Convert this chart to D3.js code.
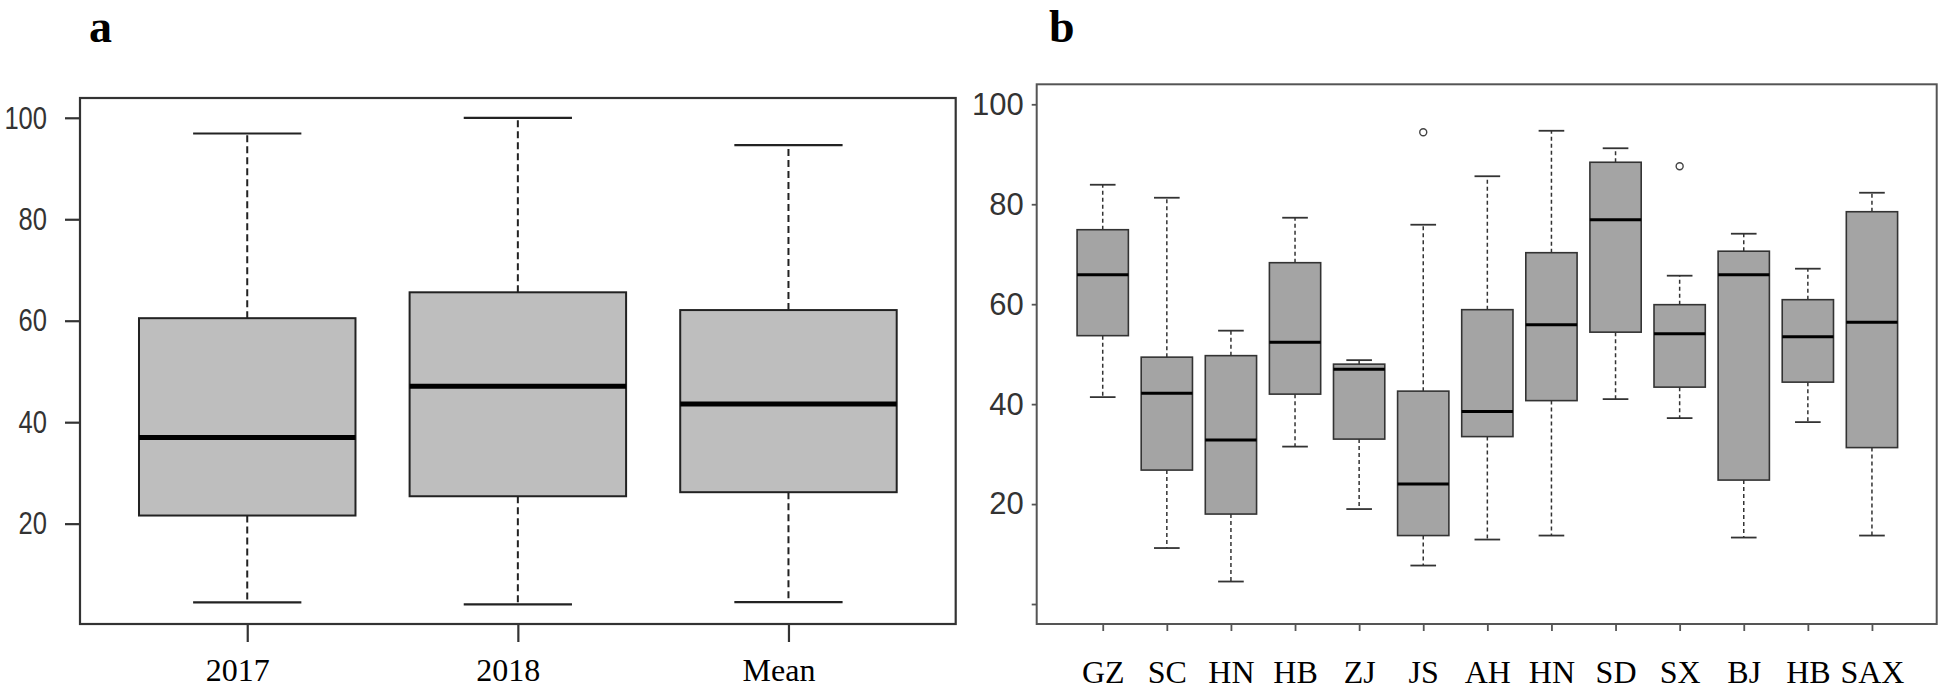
<!DOCTYPE html>
<html>
<head>
<meta charset="utf-8">
<script src="https://cdn.jsdelivr.net/npm/d3@7"></script>
<style>
  body { margin: 0; background: #fff; }
  svg { display: block; }
</style>
</head>
<body>
<div id="chart"></div>
<script>
// panel a: yearly scores
const catsA = ["2017", "2018", "Mean"];
const lowA  = [4.5, 4.1, 4.55];
const q1A   = [21.6, 25.4, 26.2];
const medA  = [37.0, 47.1, 43.6];
const q3A   = [60.5, 65.6, 62.1];
const highA = [96.9, 100.0, 94.6];
const ticksA = [20, 40, 60, 80, 100];

// panel b: by province
const catsB = ["GZ", "SC", "HN", "HB", "ZJ", "JS", "AH", "HN", "SD", "SX", "BJ", "HB", "SAX"];
const lowB  = [41.4, 11.2, 4.5, 31.5, 19.0, 7.7, 12.9, 13.7, 41.0, 37.2, 13.3, 36.4, 13.7];
const q1B   = [53.7, 26.8, 18.0, 42.0, 33.0, 13.7, 33.5, 40.7, 54.4, 43.4, 24.8, 44.4, 31.3];
const medB  = [65.9, 42.2, 32.8, 52.4, 47.0, 24.0, 38.5, 55.9, 76.9, 54.1, 65.9, 53.5, 56.4];
const q3B   = [74.9, 49.4, 49.7, 68.3, 48.0, 42.6, 58.9, 70.3, 88.4, 59.9, 70.6, 60.9, 78.5];
const highB = [83.9, 81.3, 54.7, 77.3, 48.8, 75.9, 85.6, 94.7, 91.2, 65.7, 74.1, 67.1, 82.3];
const outIdxB = [5, 9];
const outValB = [94.4, 87.6];
const ticksB = [0, 20, 40, 60, 80, 100];

const width = 1946, height = 690;

const svg = d3.select("#chart").append("svg")
  .attr("width", width)
  .attr("height", height);

// draws one set of boxplots; positions are 1..n on x
function drawBoxes(g, x, y, n, low, q1, med, q3, high, st) {
  const bw = (x(1.4) - x(0.6));
  const sw = bw / 2;
  const idx = d3.range(n);

  // whiskers
  g.selectAll(".wh-up").data(idx).enter().append("line")
    .attr("x1", i => x(i + 1)).attr("x2", i => x(i + 1))
    .attr("y1", i => y(q3[i])).attr("y2", i => y(high[i]))
    .attr("stroke", st.line).attr("stroke-width", st.whW)
    .attr("stroke-dasharray", st.dash);
  g.selectAll(".wh-lo").data(idx).enter().append("line")
    .attr("x1", i => x(i + 1)).attr("x2", i => x(i + 1))
    .attr("y1", i => y(q1[i])).attr("y2", i => y(low[i]))
    .attr("stroke", st.line).attr("stroke-width", st.whW)
    .attr("stroke-dasharray", st.dash);

  // staples
  [high, low].forEach(arr => {
    g.selectAll(null).data(idx).enter().append("line")
      .attr("x1", i => x(i + 1) - sw / 2).attr("x2", i => x(i + 1) + sw / 2)
      .attr("y1", i => y(arr[i])).attr("y2", i => y(arr[i]))
      .attr("stroke", st.line).attr("stroke-width", st.capW);
  });

  // boxes
  g.selectAll(".box").data(idx).enter().append("rect")
    .attr("x", i => x(i + 1) - bw / 2)
    .attr("y", i => y(q3[i]))
    .attr("width", bw)
    .attr("height", i => y(q1[i]) - y(q3[i]))
    .attr("fill", st.fill)
    .attr("stroke", st.line)
    .attr("stroke-width", st.boxW);

  // medians
  g.selectAll(".med").data(idx).enter().append("line")
    .attr("x1", i => x(i + 1) - bw / 2).attr("x2", i => x(i + 1) + bw / 2)
    .attr("y1", i => y(med[i])).attr("y2", i => y(med[i]))
    .attr("stroke", "#000").attr("stroke-width", st.medW);
}

// ---------- panel a ----------
const ax = d3.scaleLinear().domain([0.382, 3.618]).range([80, 955.7]);
const ay = d3.scaleLinear().domain([0.22, 103.9]).range([624, 98]);
const ga = svg.append("g");

ga.append("text")
  .attr("x", 89).attr("y", 42)
  .attr("font-family", "Liberation Serif, Times New Roman, serif")
  .attr("font-weight", "bold")
  .attr("font-size", 46)
  .text("a");

drawBoxes(ga, ax, ay, catsA.length, lowA, q1A, medA, q3A, highA, {
  fill: "#bebebe", line: "#222", whW: 2, capW: 2.2, boxW: 2, medW: 5, dash: "7,4"
});

ga.append("rect")
  .attr("x", 80).attr("y", 98)
  .attr("width", 955.7 - 80).attr("height", 624 - 98)
  .attr("fill", "none").attr("stroke", "#333").attr("stroke-width", 2.2);

const yAxisA = ga.append("g")
  .attr("transform", "translate(80,0)")
  .call(d3.axisLeft(ay).tickValues(ticksA).tickSize(15).tickSizeOuter(0).tickPadding(18));
yAxisA.select(".domain").remove();
yAxisA.selectAll("line").attr("stroke", "#333").attr("stroke-width", 2.2);
// narrow sans labels: squeeze regular sans to a condensed width
yAxisA.selectAll("text")
  .attr("font-family", "Liberation Sans Narrow, Arial Narrow, Liberation Sans, sans-serif")
  .attr("font-size", 32).attr("fill", "#333")
  .attr("textLength", d => String(d).length * 14.2)
  .attr("lengthAdjust", "spacingAndGlyphs");

const xAxisA = ga.append("g")
  .attr("transform", "translate(0,624)")
  .call(d3.axisBottom(ax).tickValues([1, 2, 3]).tickFormat((d, i) => catsA[i])
    .tickSize(18).tickSizeOuter(0).tickPadding(16));
xAxisA.select(".domain").remove();
xAxisA.selectAll("line").attr("stroke", "#333").attr("stroke-width", 2.2);
xAxisA.selectAll("text")
  .attr("font-family", "Liberation Serif, Times New Roman, serif")
  .attr("font-size", 32).attr("fill", "#000")
  .attr("dx", -10);

// ---------- panel b ----------
const bx = d3.scaleLinear().domain([-0.03, 14.01]).range([1036.7, 1936.7]);
const by = d3.scaleLinear().domain([-4, 104]).range([624, 84.3]);
const gb = svg.append("g");

gb.append("text")
  .attr("x", 1049).attr("y", 42)
  .attr("font-family", "Liberation Serif, Times New Roman, serif")
  .attr("font-weight", "bold")
  .attr("font-size", 46)
  .text("b");

drawBoxes(gb, bx, by, catsB.length, lowB, q1B, medB, q3B, highB, {
  fill: "#a4a4a4", line: "#333", whW: 1.5, capW: 1.8, boxW: 1.6, medW: 3, dash: "4,3"
});

gb.selectAll(".outlier").data(outIdxB).enter().append("circle")
  .attr("cx", i => bx(i + 1))
  .attr("cy", (i, k) => by(outValB[k]))
  .attr("r", 3.5)
  .attr("fill", "none").attr("stroke", "#444").attr("stroke-width", 1.4);

gb.append("rect")
  .attr("x", 1036.7).attr("y", 84.3)
  .attr("width", 1936.7 - 1036.7).attr("height", 624 - 84.3)
  .attr("fill", "none").attr("stroke", "#555").attr("stroke-width", 2);

const yAxisB = gb.append("g")
  .attr("transform", "translate(1036.7,0)")
  .call(d3.axisLeft(by).tickValues(ticksB).tickFormat(d => d === 0 ? "" : d)
    .tickSize(5).tickSizeOuter(0).tickPadding(8));
yAxisB.select(".domain").remove();
yAxisB.selectAll("line").attr("stroke", "#555").attr("stroke-width", 1.8);
yAxisB.selectAll("text")
  .attr("font-family", "Liberation Sans, Arial, sans-serif")
  .attr("font-size", 31).attr("fill", "#333");

const xAxisB = gb.append("g")
  .attr("transform", "translate(0,624)")
  .call(d3.axisBottom(bx).tickValues(d3.range(1, catsB.length + 1)).tickFormat((d, i) => catsB[i])
    .tickSize(7).tickSizeOuter(0).tickPadding(29));
xAxisB.select(".domain").remove();
xAxisB.selectAll("line").attr("stroke", "#555").attr("stroke-width", 1.8);
xAxisB.selectAll("text")
  .attr("font-family", "Liberation Serif, Times New Roman, serif")
  .attr("font-size", 32).attr("fill", "#000");
</script>
</body>
</html>
